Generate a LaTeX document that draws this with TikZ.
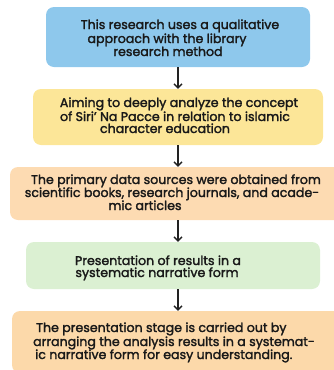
\documentclass[tikz,border=0pt]{standalone}
\usepackage{fontspec}
\setmainfont{Poppins}[FakeBold=2]
\usetikzlibrary{arrows.meta}
\definecolor{cblue}{RGB}{142,200,236}
\definecolor{cyellow}{RGB}{252,230,152}
\definecolor{corange}{RGB}{253,219,178}
\definecolor{cgreen}{RGB}{219,240,210}
\definecolor{corangeb}{RGB}{252,217,170}
\definecolor{cline}{RGB}{34,34,34}
\tikzset{
  box/.style={draw=none, rounded corners=8pt, inner sep=0pt},
  txt/.style={inner sep=0pt, font=\fontsize{12.6pt}{13pt}\selectfont, text=black!90, anchor=base},
  arr/.style={draw=cline, line width=1.4pt, -{Straight Barb[length=4pt,width=8pt,line width=1.3pt]}}
}
\begin{document}
\begin{tikzpicture}[x=1pt,y=-1pt]
\useasboundingbox (0,0) rectangle (334,370);
\clip (0,0) rectangle (334,370);
\node[box, fill=cblue, minimum width=264pt, minimum height=60pt] (b1) at (178,37) {};
\node[box, fill=cyellow, minimum width=290pt, minimum height=56pt] (b2) at (178,117) {};
\node[box, fill=corange, minimum width=336pt, minimum height=53pt] (b3) at (178,193.5) {};
\node[box, fill=cgreen, minimum width=294pt, minimum height=47pt] (b4) at (173,265.5) {};
\node[box, fill=corangeb, minimum width=334pt, minimum height=62pt] (b5) at (179,342) {};

\node[txt] (t1a) at (180,29) {This research uses a qualitative};
\node[txt] (t1b) at (167,43) {approach with the library};
\node[txt] (t1c) at (168,56) {research method};

\node[txt] (t2a) at (179,107) {Aiming to deeply analyze the concept};
\node[txt] (t2b) at (175,121) {of Siri’ Na Pacce in relation to islamic};
\node[txt] (t2c) at (165,133) {character education};

\node[txt] (t3a) at (176,184) {The primary data sources were obtained from};
\node[txt] (t3b) at (172,197) {scientific books, research journals, and acade-};
\node[txt] (t3c) at (145,210) {mic articles};

\node[txt] (t4a) at (158,265) {Presentation of results in a};
\node[txt] (t4b) at (157,277) {systematic narrative form};

\node[txt, anchor=base west] (t5a) at (36,332) {The presentation stage is carried out by};
\node[txt, anchor=base west] (t5b) at (33,346) {arranging the analysis results in a systemat-};
\node[txt, anchor=base west] (t5c) at (35,359) {ic narrative form for easy understanding.};

\draw[arr] (b1.south) -- (b1.south |- b2.north);
\draw[arr] (b2.south) -- (b2.south |- b3.north);
\draw[arr] (b3.south) -- (b3.south |- b4.north);
\draw[arr] (b4.south -| b1.south) -- (b1.south |- b5.north);
\end{tikzpicture}
\end{document}
